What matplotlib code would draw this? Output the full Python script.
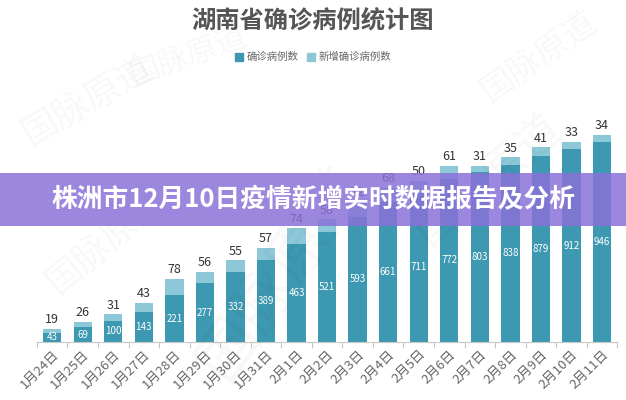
import matplotlib
matplotlib.use("Agg")
import matplotlib.pyplot as plt
from matplotlib.patches import Rectangle, Patch
import numpy as np

plt.rcParams['font.family'] = ['Noto Sans CJK SC', 'DejaVu Sans']

dates = ["1月24日", "1月25日", "1月26日", "1月27日", "1月28日", "1月29日", "1月30日",
         "1月31日", "2月1日", "2月2日", "2月3日", "2月4日", "2月5日", "2月6日",
         "2月7日", "2月8日", "2月9日", "2月10日", "2月11日"]
confirmed = [43, 69, 100, 143, 221, 277, 332, 389, 463, 521, 593, 661, 711, 772,
             803, 838, 879, 912, 946]
new_cases = [19, 26, 31, 43, 78, 56, 55, 57, 74, 58, 72, 68, 50, 61, 31, 35, 41, 33, 34]

title = "湖南省确诊病例统计图"
legend_labels = ["确诊病例数", "新增确诊病例数"]
banner = "株洲市12月10日疫情新增实时数据报告及分析"

dark = "#3d98b1"
light = "#8dc8d8"

fig = plt.figure(figsize=(6.26, 4.00), dpi=100)
fig.patch.set_facecolor("white")

# faint watermarks
for (wx, wy, rot, fs) in [(0.14, 0.75, 30, 26), (0.45, 0.32, 55, 44), (0.78, 0.55, 40, 32),
                          (0.30, 0.86, 20, 22), (0.86, 0.86, 35, 24), (0.17, 0.40, 40, 26)]:
    fig.text(wx, wy, "国脉原道", fontsize=fs, color="#000000", alpha=0.03,
             rotation=rot, ha="center", va="center", zorder=0)

ax = fig.add_axes([0.059, 0.145, 0.927, 0.529])
x = np.arange(len(dates))
ax.bar(x, confirmed, width=0.6, color=dark, zorder=2)
ax.bar(x, new_cases, bottom=confirmed, width=0.6, color=light, zorder=2)

for xi, c, n in zip(x, confirmed, new_cases):
    ax.text(xi, c / 2, str(c), ha="center", va="center", color="white",
            fontsize=7, zorder=3)
    ax.text(xi, c + n + 12, str(n), ha="center", va="bottom", color="#333333",
            fontsize=9, zorder=3)

ax.set_xlim(-0.5, len(dates) - 0.5)
ax.set_ylim(0, 1000)
ax.set_yticks([])
for s in ["top", "right", "left"]:
    ax.spines[s].set_visible(False)
ax.spines["bottom"].set_color("#c8c8c8")
ax.set_xticks(np.arange(-0.5, len(dates), 1.0), minor=False)
ax.set_xticklabels([])
ax.tick_params(axis="x", which="major", length=4, color="#c8c8c8")
ax.set_xticks(x, minor=True)
ax.set_xticklabels(dates, minor=True, rotation=45, ha="right", va="top",
                   rotation_mode="anchor", fontsize=9.5, color="#666666")
ax.tick_params(axis="x", which="minor", length=0, pad=4)
ax.patch.set_alpha(0)

fig.text(0.5, 0.948, title, ha="center", va="center", fontsize=17.5,
         fontweight="bold", color="#555555")

handles = [Patch(color=dark), Patch(color=light)]
fig.legend(handles, legend_labels, loc="center", bbox_to_anchor=(0.5, 0.857),
           ncol=2, frameon=False, fontsize=7.5, handlelength=0.8, handleheight=0.8,
           handletextpad=0.3, columnspacing=0.8, labelcolor="#666666")

rect = Rectangle((0, 0.435), 1, 0.1325, transform=fig.transFigure,
                 facecolor="#8a72d8", alpha=0.85, edgecolor="none", zorder=10)
fig.patches.append(rect)
fig.text(0.5, 0.5, banner, ha="center", va="center", fontsize=18.5,
         fontweight="bold", color="white", zorder=11)

fig.savefig("out.png", dpi=100)
